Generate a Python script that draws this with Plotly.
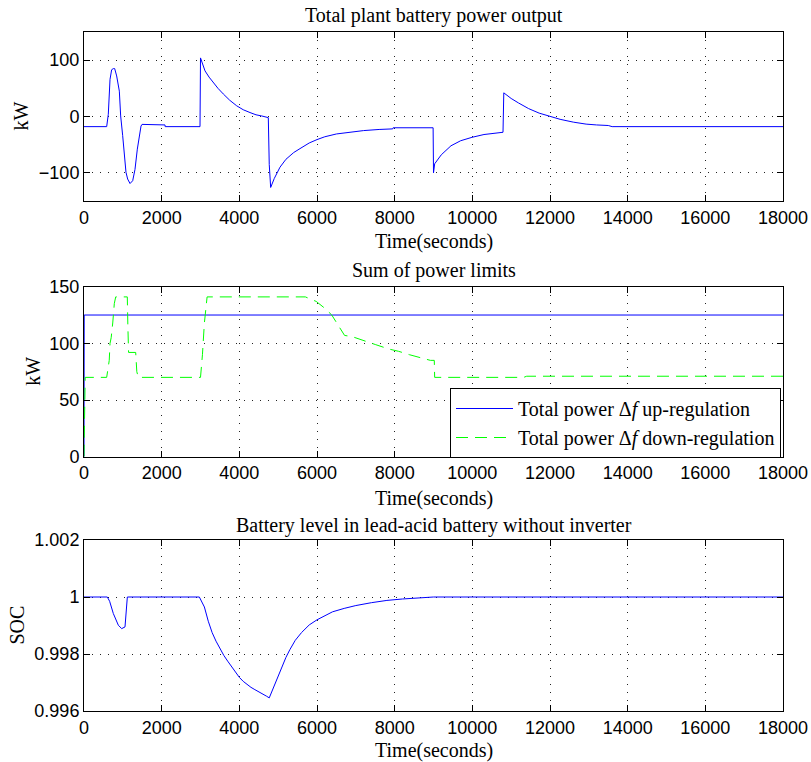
import plotly.graph_objects as go

# ---------------- data ----------------
# Panel 1: total plant battery power output (kW)
t_power = [0, 584, 626, 670, 712, 755, 790, 841, 910, 944, 996, 1039, 1081, 1124, 1185, 1254,
           1313, 1373, 1425, 1468, 1494, 2086, 2090, 2987, 3000, 3116, 3220, 3330, 3450, 3587,
           3750, 3932, 4100, 4275, 4430, 4576, 4746, 4770, 4807, 4900, 5047, 5200, 5400, 5562,
           5800, 6000, 6200, 6500, 6800, 7200, 7600, 7950, 7960, 8990, 9000, 9030, 9200, 9450,
           9700, 9990, 10300, 10600, 10790, 10810, 11000, 11190, 11450, 11720, 12000, 12260,
           12600, 12930, 13200, 13500, 13600, 18000]
p_power = [-18, -18, 4, 66, 83, 85, 85, 72, 45, 1, -34, -70, -99, -111, -119, -114,
           -94, -58, -34, -17, -14, -15, -18, -18, 104, 81, 70, 60, 50, 40,
           29, 19, 12, 7, 3, 1, -2, -85, -126, -110, -90, -76, -64, -57,
           -47, -41, -36, -31, -28, -25, -23, -22, -20, -20, -100, -84, -68, -52,
           -43, -37, -32, -29, -28, 42, 32, 24, 14, 6, 0, -5,
           -10, -13.5, -15, -16, -18, -18]

# Panel 2: sum of power limits (kW)
t_up = [0, 5, 18000]
p_up = [0, 125, 125]
t_down = [0, 30, 584, 626, 650, 670, 700, 740, 780, 816, 1115, 1130, 1148, 1331, 1360, 1399,
          3000, 3050, 3100, 3170, 5700, 5980, 6200, 6380, 6710, 6900, 7180, 7500, 7850, 8100,
          8380, 8700, 8920, 9020, 9030, 11320, 11400, 18000]
p_down = [0, 70, 70, 78, 85, 100, 105, 118, 135, 141, 141, 115, 92, 92, 75, 70,
          70, 90, 118, 141, 141, 137, 131, 125, 107, 106, 103, 99, 95, 93,
          90, 87, 85, 85, 70, 70, 71, 71]

# Panel 3: battery state of charge
t_soc = [0, 600, 660, 755, 884, 970, 1056, 1090, 1116, 2970, 3100, 3200, 3300, 3400, 3500,
         3600, 3700, 3800, 3900, 4000, 4100, 4200, 4300, 4400, 4500, 4600, 4700, 4770, 4900,
         5000, 5110, 5200, 5300, 5440, 5600, 5800, 6000, 6200, 6400, 6700, 7000, 7400, 7800,
         8200, 8600, 8990, 9000, 18000]
soc = [1.0, 1.0, 0.99985, 0.99942, 0.99901, 0.99889, 0.99895, 0.9995, 1.0, 1.0, 0.99965,
       0.99915, 0.99875, 0.99845, 0.99818, 0.99795, 0.99775, 0.99755, 0.99735, 0.99718,
       0.99704, 0.99692, 0.99683, 0.99675, 0.99668, 0.9966, 0.99652, 0.99646, 0.9969,
       0.99722, 0.9976, 0.99788, 0.99815, 0.99848, 0.99875, 0.99902, 0.9992, 0.99935,
       0.99948, 0.9996, 0.9997, 0.9998, 0.99988, 0.99993, 0.99996, 0.99998, 1.0, 1.0]

x_tick_vals = [0, 2000, 4000, 6000, 8000, 10000, 12000, 14000, 16000, 18000]
x_tick_text = ["0", "2000", "4000", "6000", "8000", "10000", "12000", "14000", "16000", "18000"]
y1_tick_vals = [-100, 0, 100]
y1_tick_text = ["\u2212100", "0", "100"]
y2_tick_vals = [0, 50, 100, 150]
y2_tick_text = ["0", "50", "100", "150"]
y3_tick_vals = [0.996, 0.998, 1.0, 1.002]
y3_tick_text = ["0.996", "0.998", "1", "1.002"]

titles = ["Total plant battery power output", "Sum of power limits",
          "Battery level in lead-acid battery without inverter"]
x_title = "Time(seconds)"
y_titles = ["kW", "kW", "SOC"]
legend_names = ["Total power \u0394<i>f</i> up-regulation",
                "Total power \u0394<i>f</i> down-regulation"]

# ---------------- figure ----------------
SERIF = "Liberation Serif"
SANS = "Liberation Sans"
BLUE = "#0000ff"
GREEN = "#00ff00"

fig = go.Figure()
fig.add_trace(go.Scatter(x=t_power, y=p_power, mode="lines", line=dict(color=BLUE, width=1),
                         xaxis="x", yaxis="y", showlegend=False))
fig.add_trace(go.Scatter(x=t_up, y=p_up, mode="lines", line=dict(color=BLUE, width=1),
                         xaxis="x2", yaxis="y2", name=legend_names[0]))
fig.add_trace(go.Scatter(x=t_down, y=p_down, mode="lines",
                         line=dict(color=GREEN, width=1, dash="12px,7px"),
                         xaxis="x2", yaxis="y2", name=legend_names[1]))
fig.add_trace(go.Scatter(x=t_soc, y=soc, mode="lines", line=dict(color=BLUE, width=1),
                         xaxis="x3", yaxis="y3", showlegend=False))

H_TOP, H_BOT = 32, 711
PH = H_BOT - H_TOP
L, R = 84, 783
PW = R - L


def py(pix):
    return (H_BOT - pix) / PH


def px(pix):
    return (pix - L) / PW


common_axis = dict(showline=True, linecolor="black", linewidth=1, mirror="allticks",
                   ticks="inside", ticklen=6, tickcolor="black", tickwidth=1,
                   showgrid=True, gridcolor="#222", gridwidth=1, griddash="1px,7px",
                   zeroline=False, automargin=False,
                   tickfont=dict(family=SANS, size=18, color="black"))

domains = [(py(201), 1.0), (py(456.7), py(286.7)), (0.0, py(540))]
yranges = [[-150, 150], [0, 150], [0.996, 1.002]]
yticks = [(y1_tick_vals, y1_tick_text), (y2_tick_vals, y2_tick_text), (y3_tick_vals, y3_tick_text)]

layout = dict(width=811, height=762, margin=dict(l=L, r=811 - R, t=H_TOP, b=762 - H_BOT),
              plot_bgcolor="white", paper_bgcolor="white", showlegend=True,
              legend=dict(x=px(781), xanchor="right", y=py(388), yanchor="top",
                          bgcolor="white", bordercolor="black", borderwidth=1,
                          font=dict(family=SERIF, size=20, color="black"),
                          itemwidth=57, tracegroupgap=0))
for i in range(3):
    sx = "" if i == 0 else str(i + 1)
    layout["xaxis" + sx] = dict(common_axis, domain=[0, 1], range=[0, 18000],
                                anchor="y" + sx, tickvals=x_tick_vals, ticktext=x_tick_text)
    layout["yaxis" + sx] = dict(common_axis, domain=list(domains[i]), range=yranges[i],
                                anchor="x" + sx, tickvals=yticks[i][0], ticktext=yticks[i][1])
fig.update_layout(**layout)

ann = []
title_y = [15, 270, 525]
xt_y = [241, 498, 750]
yt = [(20, 116.5), (33, 371.7), (16, 625.5)]
for i in range(3):
    ann.append(dict(text=titles[i], x=0.5, y=py(title_y[i]), xref="paper", yref="paper",
                    xanchor="center", yanchor="middle", showarrow=False,
                    font=dict(family=SERIF, size=20, color="black")))
    ann.append(dict(text=x_title, x=0.5, y=py(xt_y[i]), xref="paper", yref="paper",
                    xanchor="center", yanchor="middle", showarrow=False,
                    font=dict(family=SERIF, size=20, color="black")))
    ann.append(dict(text=y_titles[i], x=px(yt[i][0]), y=py(yt[i][1]), xref="paper", yref="paper",
                    xanchor="center", yanchor="middle", showarrow=False, textangle=-90,
                    font=dict(family=SERIF, size=20, color="black")))
fig.update_layout(annotations=ann)

fig.write_html("out.html", config={"displayModeBar": False},
               post_script="document.body.style.margin='0';")
